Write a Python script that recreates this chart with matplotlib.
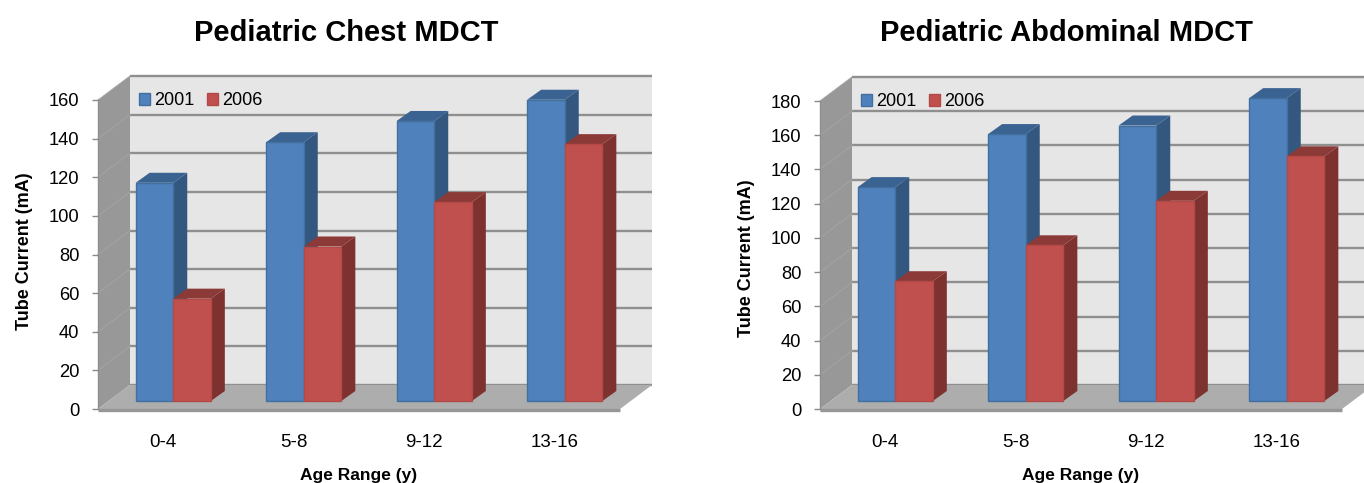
import matplotlib
matplotlib.use('Agg')
import matplotlib.pyplot as plt
from matplotlib.patches import Polygon, Patch
from matplotlib.transforms import Affine2D, IdentityTransform

W, H = 1364, 483

age_groups = ['0-4', '5-8', '9-12', '13-16']

chest_2001 = [113, 134, 145, 156]
chest_2006 = [53, 80, 103, 133]
abdominal_2001 = [125, 156, 161, 177]
abdominal_2006 = [70, 91, 117, 143]

chest_ticks = [0, 20, 40, 60, 80, 100, 120, 140, 160]
abdominal_ticks = [0, 20, 40, 60, 80, 100, 120, 140, 160, 180]

plt.rcParams['font.family'] = ['Liberation Sans', 'DejaVu Sans']

# offsets of the 3D look, in pixels
WALL_DX, WALL_DY = 32, 24
BASE_DX, BASE_DY = 10, 8
BAR_DX, BAR_DY = 14, 10
BAR_W = 0.288

BLUE = dict(front='#4f81bd', edge='#41709f', side='#34577f', top='#3b6391')
RED = dict(front='#c0504d', edge='#b34a47', side='#7d3230', top='#8c3a38')


def poly(ax, pts, color, z, edge='none', lw=0):
    ax.add_patch(Polygon(pts, closed=True, facecolor=color, edgecolor=edge, linewidth=lw,
                         transform=IdentityTransform(), clip_on=False, zorder=z))


def draw_box(ax, x, value, style, z):
    # front face goes through ax.bar, side and top are worked out from the same scale
    shift = Affine2D().translate(BASE_DX, BASE_DY)
    ax.bar(x, value, BAR_W, color=style['front'], edgecolor=style['edge'], linewidth=1.0,
           transform=ax.transData + shift, clip_on=False, zorder=z + 0.2)
    (x0, y0) = ax.transData.transform((x - BAR_W / 2, 0)) + (BASE_DX, BASE_DY)
    (x1, y1) = ax.transData.transform((x + BAR_W / 2, value)) + (BASE_DX, BASE_DY)
    poly(ax, [(x1, y0), (x1 + BAR_DX, y0 + BAR_DY), (x1 + BAR_DX, y1 + BAR_DY), (x1, y1)], style['side'], z)
    poly(ax, [(x0, y1), (x0 + BAR_DX, y1 + BAR_DY), (x1 + BAR_DX, y1 + BAR_DY), (x1, y1)], style['top'], z + 0.1)


def draw_chart(left, top_px, title, title_x, title_y, ylabel_y, ticks, s2001, s2006):
    width, bottom_px = 522, 409
    ax = fig.add_axes([left / W, 1 - bottom_px / H, width / W, (bottom_px - top_px) / H])
    ax.patch.set_visible(False)
    ax.set_xlim(0, 4)
    ax.set_ylim(0, ticks[-1])
    for sp in ax.spines.values():
        sp.set_visible(False)

    (fx0, fy0) = ax.transData.transform((0, 0))
    (fx1, fy1) = ax.transData.transform((4, ticks[-1]))
    bx0, bx1 = fx0 + WALL_DX, fx1 + WALL_DX
    by0, by1 = fy0 + WALL_DY, fy1 + WALL_DY

    # walls and floor
    poly(ax, [(bx0, by0), (bx1, by0), (bx1, by1), (bx0, by1)], '#e6e6e6', 1)
    poly(ax, [(fx0, fy0), (bx0, by0), (bx0, by1), (fx0, fy1)], '#989898', 1.1)
    poly(ax, [(fx0, fy0), (fx1, fy0), (bx1, by0), (bx0, by0)], '#adadad', 1.2)
    ax.plot([fx0, fx1], [fy0 - 1, fy0 - 1], color='#979797', lw=2.4, transform=IdentityTransform(),
            clip_on=False, zorder=1.3, solid_capstyle='butt')
    ax.plot([fx0, fx0], [fy0, fy1], color='#8f8f8f', lw=1.0, transform=IdentityTransform(),
            clip_on=False, zorder=1.3)

    # gridlines run across the side wall and the back wall
    for v in ticks:
        (_, y) = ax.transData.transform((0, v))
        ax.plot([bx0, bx1], [y + WALL_DY, y + WALL_DY], color='#8f8f8f', lw=1.7,
                transform=IdentityTransform(), clip_on=False, zorder=1.05, solid_capstyle='butt')
        if v > 0:
            ax.plot([fx0, bx0], [y, y + WALL_DY], color='#a4a4a4', lw=0.7,
                    transform=IdentityTransform(), clip_on=False, zorder=1.15)

    for i in range(len(age_groups)):
        centre = i + 0.5
        draw_box(ax, centre - BAR_W / 2, s2001[i], BLUE, 2 + i)
        draw_box(ax, centre + BAR_W / 2, s2006[i], RED, 2.5 + i)

    ax.set_yticks(ticks)
    ax.set_xticks([i + 0.5 for i in range(len(age_groups))], age_groups)
    ax.tick_params(axis='y', length=4.5, width=1, color='#8a8a8a', pad=9, labelsize=13.2)
    ax.tick_params(axis='x', length=0, pad=18, labelsize=13.5)

    ax.set_xlabel('Age Range (y)', fontsize=12.5, fontweight='bold', labelpad=12)
    ax.set_ylabel('Tube Current (mA)', fontsize=13, fontweight='bold', labelpad=11.5, y=ylabel_y)
    ax.text(title_x, title_y, title, transform=ax.transAxes, ha='center', va='baseline',
            fontsize=21, fontweight='bold')

    ax.legend(handles=[Patch(facecolor=BLUE['front'], edgecolor=BLUE['edge'], label='2001'),
                       Patch(facecolor=RED['front'], edgecolor=RED['edge'], label='2006')],
              ncols=2, frameon=False, loc='upper left', bbox_to_anchor=(0.079, 1.025),
              fontsize=13, handlelength=0.62, handleheight=0.62, handletextpad=0.18,
              columnspacing=0.74, borderpad=0, borderaxespad=0)
    return ax


fig = plt.figure(figsize=(W / 100, H / 100), dpi=100, facecolor='white')

draw_chart(98, 100, 'Pediatric Chest MDCT', 0.475, 1.191, 0.51, chest_ticks, chest_2001, chest_2006)
draw_chart(820, 101, 'Pediatric Abdominal MDCT', 0.473, 1.194, 0.49, abdominal_ticks, abdominal_2001, abdominal_2006)

fig.savefig('out.png', dpi=100)
